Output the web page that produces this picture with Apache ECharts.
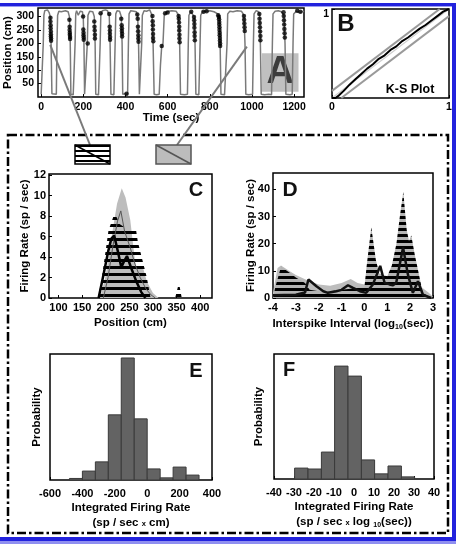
<!DOCTYPE html>
<html>
<head>
<meta charset="utf-8">
<script src="https://cdn.jsdelivr.net/npm/echarts@6/dist/echarts.min.js"></script>
<style>
html, body { margin: 0; padding: 0; background: #fff; }
#chart { width: 456px; height: 544px; }
</style>
</head>
<body>
<div id="chart"></div>
<script>
// ---- panel A: position on the track vs time, spikes as black dots
const trackPath = [
    [0,10],[6,8],[10,200],[13,305],[17,322],[24,318],[30,325],[38,315],[43,300],[47,200],[51,12],[60,8],[72,10],
    [75,200],[78,305],[84,320],[95,318],[104,325],[115,322],[128,318],[134,300],[138,200],[141,10],[152,8],[158,10],
    [161,200],[164,310],[168,322],[176,305],[185,320],[196,318],[200,290],[203,200],[206,10],[215,8],
    [219,200],[222,305],[230,320],[245,318],[252,300],[256,200],[259,10],[272,8],[277,10],
    [280,200],[283,305],[290,322],[305,325],[315,322],[323,305],[327,200],[331,10],[345,8],[348,10],
    [351,200],[354,310],[360,322],[372,320],[380,300],[384,200],[387,10],[400,12],[410,8],
    [414,200],[417,310],[425,322],[440,320],[452,318],[458,300],[462,200],[466,10],[474,8],
    [477,200],[480,305],[488,322],[500,320],[515,325],[526,305],[531,200],[536,10],[548,8],[560,10],
    [566,120],[572,190],[578,200],[584,305],[592,315],[605,320],[620,322],[640,320],[652,305],[657,200],[661,10],[680,8],[694,10],
    [698,200],[701,305],[710,318],[718,322],[726,300],[730,200],[734,10],[748,8],[751,10],
    [754,200],[757,305],[765,318],[780,320],[800,322],[820,318],[838,310],[845,300],[849,200],[853,10],[870,8],[878,10],
    [882,200],[885,310],[895,320],[910,318],[930,322],[950,320],[962,305],[967,200],[971,10],[985,8],[1003,10],
    [1007,200],[1010,310],[1020,322],[1032,318],[1037,300],[1040,200],[1044,10],[1060,8],[1080,10],[1093,8],
    [1097,200],[1100,310],[1110,320],[1125,322],[1140,318],[1152,305],[1157,200],[1161,10],[1180,8],[1191,10],
    [1195,200],[1198,310],[1210,320],[1225,315],[1240,318],[1247,320]
];
const spikeDots = [
    [44,296],[44,282],[45,268],[45,256],[46,244],[46,234],[46,226],[47,218],[47,210],
    [134,288],[135,262],[135,250],[136,240],[136,232],[137,224],[137,216],
    [199,300],[200,252],[201,240],[201,230],[202,222],[202,214],[221,200],
    [252,282],[253,262],[254,248],[255,232],[255,218],[282,312],
    [323,310],[325,262],[326,248],[326,236],[327,224],[327,214],
    [380,292],[382,268],[383,256],[383,246],[384,236],[384,226],[405,12],
    [456,308],[458,292],[459,262],[460,245],[461,230],[461,218],[462,206],
    [528,302],[529,283],[530,268],[530,252],[531,235],[531,220],[532,208],
    [572,190],[588,312],[600,315],
    [652,302],[653,292],[654,278],[655,262],[655,248],[656,232],[656,218],[657,204],
    [712,318],[725,298],[726,286],[727,272],[727,258],[728,242],[728,228],[729,212],
    [770,318],[785,320],
    [840,305],[843,298],[844,290],[845,280],[845,270],[846,260],[846,250],[847,240],[847,230],[848,220],[848,210],[849,200],[849,190],
    [962,302],[963,288],[964,274],[965,260],[966,246],
    [1035,310],[1036,292],[1037,276],[1038,260],[1039,244],[1040,228],[1040,212],
    [1150,316],[1151,302],[1152,286],[1153,270],[1154,254],[1155,238],[1156,222],
    [1215,322],[1230,318]
];
const aTicksX = [0, 200, 400, 600, 800, 1000, 1200];
const aTicksY = [50, 100, 150, 200, 250, 300];

// ---- panel B: K-S plot
const ksCurve = [
    [0,0],[0.03,0],[0.06,0.03],[0.1,0.08],[0.15,0.15],[0.2,0.21],[0.25,0.27],[0.3,0.33],[0.35,0.38],
    [0.4,0.44],[0.45,0.48],[0.5,0.54],[0.55,0.58],[0.6,0.64],[0.65,0.68],[0.7,0.73],[0.75,0.78],
    [0.8,0.82],[0.85,0.87],[0.9,0.92],[0.95,0.97],[1,1]
];
const ksUpper = [[0,0.08],[0.92,1]];
const ksLower = [[0.08,0],[1,0.92]];
const ksDiag = [[0,0],[1,1]];

// ---- panel C: firing rate vs position
const cGrayBand = [[188,0],[200,2.2],[210,5.3],[224,9.2],[234,10.7],[242,9.8],[252,7.6],[262,3.6],[266,2.9],[280,2.8],[287,1.6],[300,0.5],[312,0]];
const cHatch = [[184,0],[192,2],[206,6.6],[219,8.3],[230,7.2],[240,6.9],[264,6.7],[268,5.5],[287,2],[295,0],[347,0],[355,1.5],[361,0]];
const cMean = [[195,0],[205,2],[215,5],[225,7.5],[232,8.5],[240,6.5],[252,4.9],[262,3.3],[273,2],[285,0.9],[296,0.3],[305,0]];
const cObserved = [[185,0],[195,2.2],[205,4.5],[212,5.8],[218,6.1],[226,4.5],[233,3],[238,3.5],[245,4.1],[255,2.8],[265,1.6],[275,0.6],[284,0]];
const cTicksX = [100, 150, 200, 250, 300, 350, 400];
const cTicksY = [0, 2, 4, 6, 8, 10, 12];

// ---- panel D: firing rate vs log ISI
const dGrayBand = [[-4,2],[-3.8,11],[-3.65,12],[-3.3,10],[-3,8.5],[-2.5,6.5],[-2,5],[-1.5,4.5],[-1,5.5],[-0.6,7],[-0.3,5.5],[0,5],[0.5,6],[1,6.5],[1.5,6],[2,5],[2.5,4],[2.8,2],[3,0.5]];
const dHatch = [[-4,0],[-3.9,4],[-3.65,11.5],[-3.3,9.5],[-3,7.5],[-2.6,5.5],[-2.4,3],[-2,2.5],[-1.5,2.5],[-1,3],[-0.5,3.5],[0,4],[0.1,12],[0.3,26],[0.5,14],[0.65,9],[1,8],[1.2,12],[1.4,20],[1.55,30],[1.7,39],[1.85,25],[1.95,21],[2.05,23],[2.2,16],[2.35,10],[2.55,2],[2.8,0.5],[3,0]];
const dObserved = [[-4,1],[-3,1.2],[-2.6,2],[-2.45,6.8],[-2.1,4.3],[-1.8,2.5],[-1.6,1.9],[-1.23,2.5],[-1,3],[-0.72,4.7],[-0.5,3.7],[-0.2,2.5],[0.08,1.9],[0.37,5],[0.69,11.8],[0.88,5.6],[1.1,5],[1.25,4.7],[1.39,5.6],[1.69,18.6],[1.9,8.7],[2.12,1.9],[2.34,6.2],[2.56,1.2],[2.92,0]];
const dTicksX = [-4, -3, -2, -1, 0, 1, 2, 3];
const dTicksY = [0, 10, 20, 30, 40];

// ---- panel E / F: histograms of integrated firing rate
const eEdges = [-480, -400, -320, -240, -160, -80, 0, 80, 160, 240, 320];
const eProb = [0.005, 0.029, 0.059, 0.212, 0.397, 0.199, 0.036, 0.007, 0.042, 0.016];
const eTicksX = [-600, -400, -200, 0, 200, 400];
const fEdges = [-29.7, -23, -16.3, -9.7, -3, 3.7, 10.3, 17, 23.7, 30.3];
const fProb = [0.036, 0.033, 0.089, 0.373, 0.340, 0.063, 0.017, 0.043, 0.007];
const fTicksX = [-40, -30, -20, -10, 0, 10, 20, 30, 40];

const FONT = '"Liberation Sans", Arial, Helvetica, sans-serif';
const lab = (size) => ({ color: '#000', fontFamily: FONT, fontWeight: 'bold', fontSize: size });

// horizontal stripes used for the hatched bands
function stripes(h, band, bg) {
    const c = document.createElement('canvas');
    c.width = 8; c.height = h;
    const ctx = c.getContext('2d');
    if (bg) { ctx.fillStyle = bg; ctx.fillRect(0, 0, 8, h); }
    ctx.fillStyle = '#000';
    ctx.fillRect(0, 0, 8, band);
    return c;
}
const hatchClear = stripes(7, 3, null);
const hatchGray = stripes(6, 3, '#b4b4b4');
const hatchIcon = stripes(5, 2, '#fff');

function axis(gi, min, max, ticks, margin, size) {
    return {
        gridIndex: gi, type: 'value', min: min, max: max,
        axisLine: { show: false, onZero: false },
        axisTick: { show: ticks.length > 0, inside: true, length: 3, customValues: ticks, lineStyle: { color: '#000', width: 1 } },
        axisLabel: Object.assign({ show: ticks.length > 0, margin: margin, customValues: ticks, hideOverlap: false,
            formatter: v => String(v) }, lab(size)),
        splitLine: { show: false }
    };
}
function named(ax, name, gap, extra) {
    ax.name = name;
    ax.nameLocation = 'middle';
    ax.nameGap = gap;
    ax.nameMoveOverlap = false;
    ax.nameTextStyle = Object.assign(lab(11.5), extra || {});
    return ax;
}

const gridBase = { show: true, borderColor: '#000', borderWidth: 1.5, backgroundColor: 'transparent', containLabel: false, outerBoundsMode: 'none' };
const grids = [
    { left: 38, top: 8, width: 266, height: 89 },
    { left: 332, top: 9, width: 117, height: 89 },
    { left: 49, top: 174, width: 163, height: 124 },
    { left: 273, top: 173, width: 160, height: 125 },
    { left: 50, top: 354, width: 162, height: 126 },
    { left: 274, top: 354, width: 160, height: 125 }
].map(g => Object.assign({}, gridBase, g));

const subRich = {
    sub: { fontSize: 7, fontWeight: 'bold', fontFamily: FONT, color: '#000', padding: [7, 0, 0, 0] },
    s: { fontSize: 7.5, fontWeight: 'bold', fontFamily: FONT, color: '#000', padding: [3, 0, 0, 0] }
};

const bY = axis(1, 0, 1, [1], 3, 10.5);
bY.axisLabel.verticalAlign = 'top';

const xAxes = [
    named(axis(0, -15, 1247, aTicksX, 5, 10.5), 'Time (sec)', 15),
    axis(1, 0, 1, [0, 1], 4, 10.5),
    named(axis(2, 80, 425, cTicksX, 4, 11), 'Position (cm)', 19),
    named(axis(3, -4, 3, dTicksX, 4, 11), 'Interspike Interval (log{sub|10}(sec))', 19, { rich: subRich }),
    named(axis(4, -600, 400, eTicksX, 8, 11), 'Integrated Firing Rate\n(sp / sec {s|x} cm)', 20, { lineHeight: 15, rich: subRich }),
    named(axis(5, -40, 40, fTicksX, 8, 11), 'Integrated Firing Rate\n(sp / sec {s|x} log {sub|10}(sec))', 20, { lineHeight: 15, rich: subRich })
];
const yAxes = [
    named(axis(0, 0, 332, aTicksY, 4, 10.5), 'Position (cm)', 24),
    bY,
    named(axis(2, 0, 12.1, cTicksY, 3, 11), 'Firing Rate (sp / sec)', 18),
    named(axis(3, 0, 46, dTicksY, 3, 11), 'Firing Rate (sp / sec)', 16),
    named(axis(4, 0, 0.41, [], 3, 11), 'Probability', 7),
    named(axis(5, 0, 0.413, [], 3, 11), 'Probability', 9)
];

function band(idx, data, fill, z) {
    return { type: 'line', xAxisIndex: idx, yAxisIndex: idx, data: data, symbol: 'none', z: z,
        lineStyle: { width: 0, opacity: 0 }, areaStyle: { color: fill, opacity: 1 } };
}
function curve(idx, data, color, width, z) {
    return { type: 'line', xAxisIndex: idx, yAxisIndex: idx, data: data, symbol: 'none', z: z,
        lineStyle: { color: color, width: width } };
}
function histogram(idx, edges, probs) {
    return {
        type: 'custom', xAxisIndex: idx, yAxisIndex: idx,
        data: probs.map((p, i) => [edges[i], edges[i + 1], p]),
        encode: { x: [0, 1], y: 2 },
        renderItem: function (params, api) {
            const p0 = api.coord([api.value(0), api.value(2)]);
            const p1 = api.coord([api.value(1), 0]);
            return { type: 'rect', shape: { x: p0[0], y: p0[1], width: p1[0] - p0[0], height: p1[1] - p0[1] },
                style: { fill: '#636363', stroke: '#3a3a3a', lineWidth: 1 } };
        }
    };
}

const chart = echarts.init(document.getElementById('chart'), null, { renderer: 'canvas' });
chart.setOption({
    animation: false,
    backgroundColor: '#fff',
    textStyle: { fontFamily: FONT },
    grid: grids,
    xAxis: xAxes,
    yAxis: yAxes,
    series: [
        Object.assign(curve(0, trackPath, '#7a7a7a', 1.5, 2), {
            markArea: {
                silent: true,
                itemStyle: { color: 'rgba(165,165,165,0.7)' },
                label: Object.assign({ show: true, position: 'inside', formatter: 'A' }, lab(38), { color: '#3c3c3c' }),
                data: [[{ xAxis: 1047, yAxis: 20 }, { xAxis: 1221, yAxis: 163 }]]
            }
        }),
        { type: 'scatter', xAxisIndex: 0, yAxisIndex: 0, data: spikeDots, symbolSize: 4.5, z: 3, itemStyle: { color: '#000' } },

        curve(1, ksDiag, '#cfcfcf', 1.2, 2),
        curve(1, ksUpper, '#9a9a9a', 2, 2),
        curve(1, ksLower, '#9a9a9a', 2, 2),
        curve(1, ksCurve, '#000', 2, 3),

        band(2, cGrayBand, '#bdbdbd', 1),
        band(2, cHatch, { image: hatchClear, repeat: 'repeat' }, 2),
        curve(2, cMean, '#555', 1, 3),
        curve(2, cObserved, '#000', 2.5, 4),

        band(3, dGrayBand, '#bdbdbd', 1),
        band(3, dHatch, { image: hatchGray, repeat: 'repeat' }, 2),
        curve(3, dObserved, '#111', 2.5, 4),

        histogram(4, eEdges, eProb),
        histogram(5, fEdges, fProb)
    ]
});

// connectors from panel A down to the two legend boxes
const fromA1 = chart.convertToPixel({ xAxisIndex: 0, yAxisIndex: 0 }, [43, 194]);
const fromA2 = chart.convertToPixel({ xAxisIndex: 0, yAxisIndex: 0 }, [976, 188]);

function letter(t, x, y, size) {
    return { type: 'text', x: x, y: y, z: 10,
        style: { text: t, align: 'center', verticalAlign: 'middle', fill: '#111', fontFamily: FONT, fontWeight: 'bold', fontSize: size } };
}

chart.setOption({
    graphic: [
        // blue figure frame (top, right, bottom)
        { type: 'rect', shape: { x: 0, y: 3, width: 456, height: 3 }, style: { fill: '#2222dd' } },
        { type: 'rect', shape: { x: 0, y: 6, width: 452, height: 1 }, style: { fill: '#9c9cf2' } },
        { type: 'rect', shape: { x: 452, y: 3, width: 4, height: 541 }, style: { fill: '#2222dd' } },
        { type: 'rect', shape: { x: 0, y: 537, width: 456, height: 4 }, style: { fill: '#2222dd' } },
        { type: 'rect', shape: { x: 0, y: 541, width: 456, height: 3 }, style: { fill: '#8f8ff0' } },
        // dash-dot frame around C-F
        { type: 'rect', shape: { x: 8, y: 135, width: 440, height: 398 },
          style: { fill: 'none', stroke: '#000', lineWidth: 2.5, lineDash: [9, 3, 2.5, 3] } },
        // connectors
        { type: 'line', shape: { x1: fromA1[0], y1: fromA1[1], x2: 90, y2: 145 }, style: { stroke: '#7a7a7a', lineWidth: 2 }, z: 5 },
        { type: 'line', shape: { x1: fromA2[0], y1: fromA2[1], x2: 177, y2: 145 }, style: { stroke: '#7a7a7a', lineWidth: 2 }, z: 5 },
        // legend boxes
        { type: 'rect', shape: { x: 75, y: 145, width: 35, height: 19 },
          style: { fill: { image: hatchIcon, repeat: 'repeat' }, stroke: '#000', lineWidth: 1.5 }, z: 6 },
        { type: 'line', shape: { x1: 75, y1: 145, x2: 110, y2: 164 }, style: { stroke: '#000', lineWidth: 1.5 }, z: 7 },
        { type: 'rect', shape: { x: 156, y: 145, width: 35, height: 19 },
          style: { fill: '#bcbcbc', stroke: '#555', lineWidth: 1.5 }, z: 6 },
        { type: 'line', shape: { x1: 156, y1: 145, x2: 191, y2: 164 }, style: { stroke: '#555', lineWidth: 1.5 }, z: 7 },
        // panel letters
        letter('B', 346, 24, 24),
        letter('C', 196, 190, 20),
        letter('D', 290, 190, 21),
        letter('E', 196, 371, 20),
        letter('F', 289, 370, 20),
        { type: 'text', x: 410, y: 90, z: 10,
          style: { text: 'K-S Plot', align: 'center', verticalAlign: 'middle', fill: '#000', fontFamily: FONT, fontWeight: 'bold', fontSize: 12.5 } }
    ]
});
</script>
</body>
</html>
